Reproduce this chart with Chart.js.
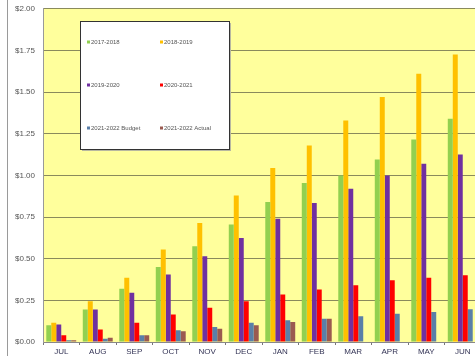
<!DOCTYPE html>
<html>
<head>
<meta charset="utf-8">
<script src="https://cdn.jsdelivr.net/npm/chart.js@4"></script>
<style>
  html, body { margin: 0; padding: 0; background: #fff; overflow: hidden; }
  #wrap { position: relative; width: 490px; height: 360px; margin-top: -4px; }
</style>
</head>
<body>
<div id="wrap"><canvas id="chart" width="490" height="360"></canvas></div>
<script>
const months = ['JUL', 'AUG', 'SEP', 'OCT', 'NOV', 'DEC', 'JAN', 'FEB', 'MAR', 'APR', 'MAY', 'JUN'];

const fy1718 = [0.10, 0.195, 0.32, 0.45, 0.575, 0.705, 0.84, 0.955, 1.00, 1.095, 1.215, 1.34];
const fy1819 = [0.115, 0.245, 0.385, 0.555, 0.715, 0.88, 1.045, 1.18, 1.33, 1.47, 1.61, 1.725];
const fy1920 = [0.105, 0.195, 0.295, 0.405, 0.515, 0.625, 0.74, 0.835, 0.92, 1.00, 1.07, 1.125];
const fy2021 = [0.04, 0.075, 0.115, 0.165, 0.205, 0.245, 0.285, 0.315, 0.34, 0.37, 0.385, 0.40];
const budget2122 = [0.01, 0.02, 0.04, 0.07, 0.09, 0.115, 0.13, 0.14, 0.155, 0.17, 0.18, 0.197];
const actual2122 = [0.01, 0.025, 0.04, 0.065, 0.08, 0.10, 0.12, 0.14, null, null, null, null];

const seriesLabels = ['2017-2018', '2018-2019', '2019-2020', '2020-2021', '2021-2022 Budget', '2021-2022 Actual'];
const seriesColors = ['#92D050', '#FFC000', '#7030A0', '#FF0000', '#5A7FA8', '#9B5A50'];

const allSeries = [fy1718, fy1819, fy1920, fy2021, budget2122, actual2122];

// yellow plot area + left frame line
const backdrop = {
  id: 'backdrop',
  beforeDraw(chart) {
    const { ctx, chartArea: a } = chart;
    ctx.save();
    ctx.fillStyle = '#FFFF9C';
    ctx.fillRect(a.left, a.top, a.right - a.left, a.bottom - a.top);
    ctx.strokeStyle = '#9a9a9a';
    ctx.lineWidth = 1;
    ctx.beginPath();
    ctx.moveTo(7.5, 0);
    ctx.lineTo(7.5, chart.height);
    ctx.stroke();
    ctx.restore();
  }
};

// legend box drawn inside the plot, two columns by three rows
// (canvas is shifted up 4px, so y values here are +4)
const boxLegend = {
  id: 'boxLegend',
  afterDraw(chart) {
    const ctx = chart.ctx;
    const x = 80, y = 25, w = 149, h = 128;
    ctx.save();
    ctx.fillStyle = '#b8b8a0';
    ctx.fillRect(x + 2, y + 2, w, h);
    ctx.fillStyle = '#fff';
    ctx.fillRect(x, y, w, h);
    ctx.strokeStyle = '#333';
    ctx.lineWidth = 1;
    ctx.strokeRect(x + 0.5, y + 0.5, w, h);
    ctx.font = '6px Arial, "Liberation Sans", sans-serif';
    ctx.textBaseline = 'middle';
    chart.data.datasets.forEach((ds, i) => {
      const col = i % 2, row = Math.floor(i / 2);
      const lx = 87 + col * 73;
      const ly = 46 + row * 43;
      ctx.fillStyle = ds.backgroundColor;
      ctx.fillRect(lx, ly - 1.5, 3, 3);
      ctx.fillStyle = '#555';
      ctx.fillText(ds.label, lx + 4, ly);
    });
    ctx.restore();
  }
};

new Chart(document.getElementById('chart'), {
  type: 'bar',
  data: {
    labels: months,
    datasets: allSeries.map((data, i) => ({
      label: seriesLabels[i],
      data: data,
      backgroundColor: seriesColors[i],
      borderWidth: 0,
      categoryPercentage: 0.82,
      barPercentage: 1.0
    }))
  },
  options: {
    responsive: false,
    animation: false,
    layout: { padding: { top: 0, right: 9, left: 0, bottom: 0 } },
    plugins: {
      legend: { display: false },
      tooltip: { enabled: false }
    },
    scales: {
      x: {
        grid: {
          drawOnChartArea: false,
          drawTicks: true,
          tickLength: 3,
          color: '#777',
          offset: true
        },
        border: { color: '#888' },
        ticks: {
          color: '#333355',
          padding: 2,
          font: { size: 8, family: 'Arial, "Liberation Sans", sans-serif' }
        },
        afterFit(scale) { scale.height = 14; }
      },
      y: {
        min: 0,
        max: 2,
        ticks: {
          stepSize: 0.25,
          padding: 8,
          color: '#555',
          font: { size: 8, family: 'Arial, "Liberation Sans", sans-serif' },
          callback: v => '$' + v.toFixed(2)
        },
        grid: { color: '#8a8a5c', lineWidth: 1, drawTicks: false },
        border: { color: '#999' },
        afterFit(scale) { scale.width = 43; }
      }
    }
  },
  plugins: [backdrop, boxLegend]
});
</script>
</body>
</html>
